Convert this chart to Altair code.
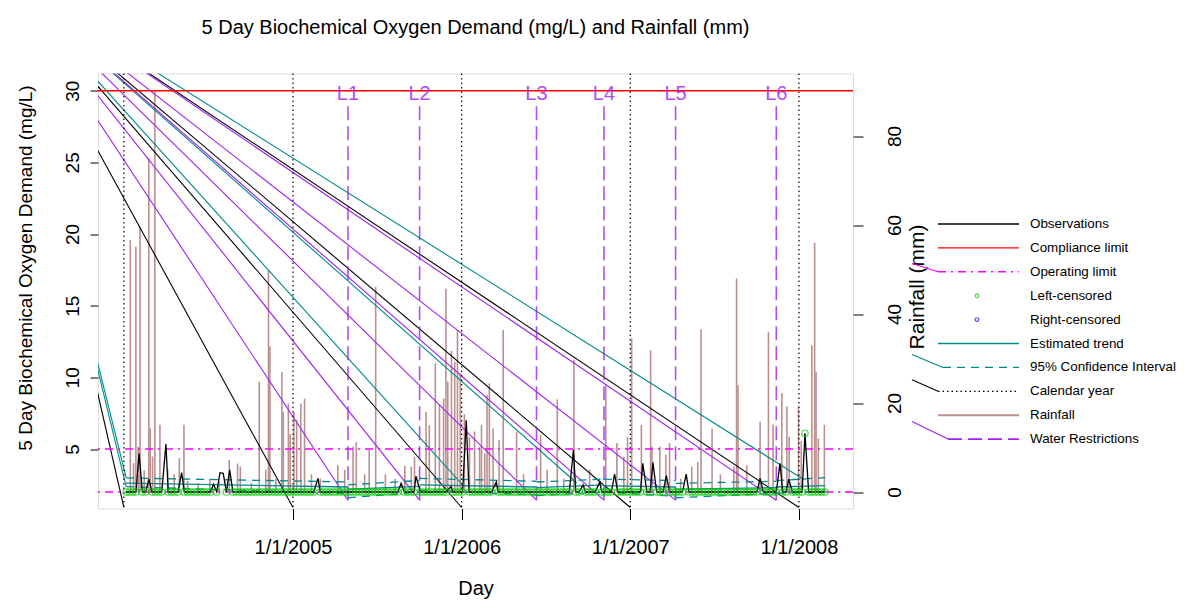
import altair as alt
import pandas as pd

# ---------------- values ----------------
rain_dates = [
    "2004-01-15", "2004-01-22", "2004-01-27", "2004-02-01", "2004-02-05", "2004-02-14",
    "2004-02-24", "2004-02-27", "2004-03-03", "2004-03-08", "2004-03-19", "2004-04-05",
    "2004-04-19", "2004-04-30", "2004-05-10", "2004-05-18", "2004-06-10", "2004-07-05",
    "2004-07-25", "2004-08-16", "2004-09-03", "2004-09-09", "2004-10-03", "2004-10-20",
    "2004-11-03", "2004-11-09", "2004-11-12", "2004-11-25", "2004-12-08", "2004-12-11",
    "2004-12-22", "2004-12-26", "2005-01-03", "2005-01-09", "2005-01-18", "2005-01-26",
    "2005-02-10", "2005-03-01", "2005-04-08", "2005-04-23", "2005-05-11", "2005-05-18",
    "2005-06-05", "2005-06-15", "2005-06-29", "2005-07-20", "2005-08-10", "2005-08-31",
    "2005-09-14", "2005-09-21", "2005-10-16", "2005-10-23", "2005-11-05", "2005-11-14",
    "2005-11-23", "2005-11-28", "2005-12-02", "2005-12-10", "2005-12-17", "2005-12-23",
    "2005-12-29", "2006-01-07", "2006-01-18", "2006-01-29", "2006-02-09", "2006-02-13",
    "2006-02-20", "2006-02-25", "2006-03-02", "2006-03-10", "2006-03-23", "2006-04-01",
    "2006-04-30", "2006-05-15", "2006-06-21", "2006-07-05", "2006-07-27", "2006-08-10",
    "2006-09-01", "2006-10-05", "2006-11-09", "2006-12-03", "2006-12-18", "2006-12-26",
    "2007-01-04", "2007-01-25", "2007-02-14", "2007-02-17", "2007-03-06", "2007-03-19",
    "2007-03-27", "2007-04-20", "2007-05-14", "2007-05-27", "2007-06-03", "2007-06-27",
    "2007-07-15", "2007-08-13", "2007-08-19", "2007-08-22", "2007-09-10", "2007-10-09",
    "2007-10-27", "2007-11-06", "2007-11-25", "2007-12-06", "2007-12-11", "2007-12-31",
    "2008-01-06", "2008-01-29", "2008-02-04", "2008-02-07", "2008-02-12", "2008-02-25",
]
rain_mm = [
    56.6, 6.5, 55.1, 10.2, 59.6, 4.9,
    75.0, 14.3, 8.0, 90.3, 15.1, 5.0,
    4.0, 7.6, 15.1, 2.5, 2.0, 3.0,
    2.5, 7.2, 6.4, 5.7, 2.0, 24.8,
    5.0, 49.9, 32.7, 3.0, 27.0, 18.0,
    19.9, 13.0, 18.0, 16.2, 19.9, 21.0,
    4.0, 3.0, 6.0, 5.0, 10.2, 11.2,
    4.0, 9.5, 46.1, 4.0, 3.0, 5.9,
    5.7, 7.9, 18.0, 15.0, 28.9, 19.7,
    21.0, 45.7, 24.8, 31.7, 29.3, 36.4,
    26.7, 17.5, 12.4, 13.6, 10.2, 15.1,
    8.7, 21.8, 24.4, 14.3, 11.7, 36.4,
    13.6, 4.0, 12.8, 5.0, 20.8, 3.0,
    29.7, 5.0, 24.0, 11.0, 7.9, 12.4,
    34.5, 15.1, 31.9, 10.2, 10.2, 8.4,
    11.0, 3.0, 5.7, 6.8, 36.6, 14.3,
    4.0, 5.7, 48.0, 24.0, 6.0, 15.8,
    36.0, 15.1, 22.2, 19.2, 12.4, 19.2,
    11.5, 33.0, 56.0, 27.0, 12.0, 15.1,
]

# observations: weekly sampling; values above the detection limit
obs_first, obs_last = "2004-01-06", "2008-02-26"
detection_limit = 2.0
peak_dates = [
    "2004-02-03", "2004-02-24", "2004-04-01", "2004-05-05", "2004-07-13", "2004-07-27",
    "2004-08-03", "2004-08-17", "2005-02-24", "2005-08-23", "2005-09-24", "2005-12-09",
    "2006-01-11", "2006-03-17", "2006-08-31", "2006-09-21", "2006-10-27", "2006-11-28",
    "2007-01-28", "2007-02-19", "2007-03-20", "2007-05-02", "2007-10-09", "2007-11-21",
    "2007-12-10", "2008-01-14",
]
peak_values = [
    4.7, 2.9, 5.35, 3.35, 2.55, 3.35,
    3.3, 3.55, 2.95, 2.6, 3.1, 2.4,
    7.0, 2.7, 4.95, 2.5, 2.7, 3.25,
    4.0, 4.05, 3.15, 3.25, 2.95, 4.0,
    2.9, 6.1,
]
censored_peak_dates = ["2008-01-14"]

compliance_limit = 30.0
operating_limits = [5.0, 2.0]
year_starts = ["2004-01-01", "2005-01-01", "2006-01-01", "2007-01-01", "2008-01-01"]
tick_years = [2005, 2006, 2007, 2008]

restriction_labels = ["L1", "L2", "L3", "L4", "L5", "L6"]
restriction_dates = ["2005-04-30", "2005-10-02", "2006-06-12", "2006-11-05", "2007-04-09", "2007-11-13"]
restriction_low, restriction_high, restriction_label_y = 1.43, 29.1, 29.77

trend_breaks = ["2004-01-06", "2005-04-30", "2005-10-02", "2006-06-12", "2006-11-05",
                "2007-04-09", "2007-11-13", "2008-02-27"]
trend_from = [2.62, 2.2, 2.5, 2.3, 2.45, 2.2, 2.35]
trend_to = [2.35, 2.4, 2.35, 2.5, 2.35, 2.3, 2.45]
upper_from = [2.98, 2.5, 2.95, 2.7, 2.9, 2.6, 2.8]
upper_to = [2.7, 2.8, 2.75, 2.9, 2.8, 2.75, 3.0]
lower_from = [2.37, 1.6, 2.1, 1.75, 2.0, 1.6, 1.9]
lower_to = [1.9, 2.0, 1.8, 2.0, 1.7, 1.9, 2.05]

# stray connector lines in the original, all running from one far point
stray_origin_date, stray_origin_value = "2003-04-12", 38.07
stray_black_ends = [(d, 0.92) for d in year_starts]
stray_purple_ends = [(d, restriction_low) for d in restriction_dates]
stray_teal_ends = [("2004-01-06", 2.98), ("2004-01-06", 2.37), ("2005-12-30", 2.63),
                   ("2006-09-07", 2.63), ("2008-01-13", 2.84)]

legend_labels = ["Observations", "Compliance limit", "Operating limit", "Left-censored",
                 "Right-censored", "Estimated trend", "95% Confidence Interval",
                 "Calendar year", "Rainfall", "Water Restrictions"]

# ---------------- layout / style ----------------
W, H = 755, 435
X_DOM = ("2003-11-06", "2008-04-27")
Y_DOM = (0.85, 31.2)
R_DOM = (-3.7, 94.05)
FONT = "Liberation Sans"
TEAL, PURPLE, MAGENTA, RED, GREEN, ROSY = "#008b8b", "#a020f0", "#ff00ff", "#ff0000", "#00cc00", "#bc8f8f"


def dt(s):
    t = pd.Timestamp(s)
    return alt.DateTime(year=t.year, month=t.month, date=t.day, utc=True)


xscale = alt.Scale(type="utc", domain=[dt(X_DOM[0]), dt(X_DOM[1])])
xaxis = alt.Axis(values=[dt(f"{y}-01-01") for y in tick_years],
                 labelExpr="utcFormat(datum.value, '%-m/%-d/%Y')",
                 grid=False, domain=False, tickSize=11, tickColor="black",
                 labelPadding=18, labelFontSize=20, labelColor="black", labelFont=FONT,
                 title="Day", titleFontSize=20, titleFont=FONT, titleFontWeight="normal",
                 titleColor="black", titleY=80, titleBaseline="middle", labelFlush=False)
yscale = alt.Scale(domain=list(Y_DOM), nice=False, zero=False)
yaxis = alt.Axis(values=[5, 10, 15, 20, 25, 30], grid=False, domain=False, tickSize=8,
                 tickColor="black", labelAngle=270, labelAlign="center", labelBaseline="bottom",
                 labelPadding=8, labelFontSize=19, labelColor="black", labelFont=FONT,
                 title="5 Day Biochemical Oxygen Demand (mg/L)", titleFontSize=19,
                 titleFont=FONT, titleFontWeight="normal", titleColor="black", titleAngle=270,
                 titleX=-73, titleY=194, titleAlign="center", titleBaseline="middle")
rscale = alt.Scale(domain=list(R_DOM), nice=False, zero=False)
raxis = alt.Axis(orient="right", values=[0, 20, 40, 60, 80], grid=False, domain=False,
                 tickSize=10, tickColor="black", labelAngle=270, labelAlign="center",
                 labelBaseline="top", labelPadding=22, labelFontSize=19, labelColor="black",
                 labelFont=FONT, title="Rainfall (mm)", titleFontSize=21, titleFont=FONT,
                 titleFontWeight="normal", titleColor="black", titleAngle=270,
                 titleX=64, titleY=213, titleAlign="center", titleBaseline="middle")


def X(f, axis=True):
    return alt.X(f, type="temporal", scale=xscale, axis=xaxis if axis else None)


def Y(f):
    return alt.Y(f, type="quantitative", scale=yscale, axis=yaxis)


# ---------------- tables ----------------
rain = pd.DataFrame({"d": rain_dates, "mm": rain_mm, "zero": 0.0})

grid = pd.date_range(obs_first, obs_last, freq="7D")
pk = pd.to_datetime(pd.Series(peak_dates))
base = [g for g in grid if (abs(pk - g) > pd.Timedelta(days=3)).all()]
obs = pd.DataFrame({"d": list(base) + list(pk), "v": [detection_limit] * len(base) + peak_values})
obs = obs.sort_values("d").reset_index(drop=True)
obs["cens"] = (obs["v"] == detection_limit) | obs["d"].isin(pd.to_datetime(censored_peak_dates))
obs["d"] = obs["d"].dt.strftime("%Y-%m-%d")
cens = obs[obs["cens"]]

seg = pd.DataFrame({"d0": trend_breaks[:-1], "d1": trend_breaks[1:],
                    "t0": trend_from, "t1": trend_to, "u0": upper_from, "u1": upper_to,
                    "l0": lower_from, "l1": lower_to})
years = pd.DataFrame({"d": year_starts})
limits = pd.DataFrame({"v": operating_limits})
comp = pd.DataFrame({"v": [compliance_limit]})
restr = pd.DataFrame({"d": restriction_dates, "lab": restriction_labels,
                      "lo": restriction_low, "hi": restriction_high, "ly": restriction_label_y})


def stray(ends):
    return pd.DataFrame({"x0": stray_origin_date, "y0": stray_origin_value,
                         "x1": [e[0] for e in ends], "y1": [e[1] for e in ends]})


# ---------------- rainfall (right axis) ----------------
rain_layer = alt.Chart(rain).mark_rule(color=ROSY, strokeWidth=1.6).encode(
    x=X("d:T", axis=False),
    y=alt.Y("mm:Q", scale=rscale, axis=raxis),
    y2=alt.Y2("zero:Q"),
)

# ---------------- BOD layers ----------------
layers = []
for ends, col in [(stray_black_ends, "black"), (stray_teal_ends, TEAL), (stray_purple_ends, PURPLE)]:
    layers.append(alt.Chart(stray(ends)).mark_rule(color=col, strokeWidth=1.1, clip=True).encode(
        x=X("x0:T"), y=Y("y0:Q"), x2=alt.X2("x1:T"), y2=alt.Y2("y1:Q")))

layers.append(alt.Chart(years).mark_rule(color="black", strokeWidth=1.2, strokeDash=[1.5, 3]).encode(
    x=X("d:T")))
layers.append(alt.Chart(comp).mark_rule(color=RED, strokeWidth=1.4).encode(y=Y("v:Q")))
layers.append(alt.Chart(limits).mark_rule(color=MAGENTA, strokeWidth=1.4,
                                          strokeDash=[8, 5, 2, 5]).encode(y=Y("v:Q")))
layers.append(alt.Chart(restr).mark_rule(color=PURPLE, strokeWidth=1.6, strokeDash=[14, 6],
                                         opacity=0.8).encode(
    x=X("d:T"), y=Y("lo:Q"), y2=alt.Y2("hi:Q")))
layers.append(alt.Chart(restr).mark_text(color=PURPLE, fontSize=20, font=FONT, opacity=0.8,
                                         align="center", baseline="middle").encode(
    x=X("d:T"), y=Y("ly:Q"), text="lab:N"))
layers.append(alt.Chart(seg).mark_rule(color=TEAL, strokeWidth=1.3).encode(
    x=X("d0:T"), x2=alt.X2("d1:T"), y=Y("t0:Q"), y2=alt.Y2("t1:Q")))
for a, b in [("u0", "u1"), ("l0", "l1")]:
    layers.append(alt.Chart(seg).mark_rule(color=TEAL, strokeWidth=1.3, strokeDash=[8, 6]).encode(
        x=X("d0:T"), x2=alt.X2("d1:T"), y=Y(f"{a}:Q"), y2=alt.Y2(f"{b}:Q")))
layers.append(alt.Chart(obs).mark_line(color="black", strokeWidth=1.3).encode(
    x=X("d:T"), y=Y("v:Q")))
layers.append(alt.Chart(cens).mark_point(shape="circle", filled=False, color=GREEN, size=42,
                                         strokeWidth=1.2).encode(x=X("d:T"), y=Y("v:Q")))
bod = alt.layer(*layers)

# ---------------- legend (drawn in pixel space, to the right of the plot) ----------------
row0, step = 150.5, 23.9
lx0, lx1, ltext, lsym, stub_x = 840, 921, 932, 879, 814
span_x = (pd.Timestamp(X_DOM[1]) - pd.Timestamp(X_DOM[0])).days
ox = (pd.Timestamp(stray_origin_date) - pd.Timestamp(X_DOM[0])).days / span_x * W
oy = (Y_DOM[1] - stray_origin_value) / (Y_DOM[1] - Y_DOM[0]) * H

styles = [
    ("line", "black", None, lx0, 1.3, False),
    ("line", RED, None, lx0, 1.4, False),
    ("line", MAGENTA, [8, 5, 2, 5], lx0, 1.4, True),
    ("point", GREEN, None, lx0, 1.2, False),
    ("point", "#0000ff", None, lx0, 1.2, False),
    ("line", TEAL, None, lx0, 1.3, False),
    ("line", TEAL, [8, 6], lx0 + 5, 1.3, True),
    ("line", "black", [1.5, 3], lx0, 1.2, True),
    ("line", ROSY, None, lx0, 2, False),
    ("line", PURPLE, [14, 6], lx0 + 10, 1.6, True),
]
leg_layers = []
lab_df = pd.DataFrame({"lab": legend_labels, "x": ltext,
                       "y": [row0 + i * step for i in range(len(legend_labels))]})
leg_layers.append(alt.Chart(lab_df).mark_text(align="left", baseline="middle", fontSize=13.4,
                                              font=FONT, color="black").encode(
    x=alt.X("x:Q", scale=None), y=alt.Y("y:Q", scale=None), text="lab:N"))
for i, (kind, col, dash, start, sw, stub) in enumerate(styles):
    yy = row0 + i * step
    if kind == "line":
        df = pd.DataFrame({"x": [start], "x2": [lx1], "y": [yy]})
        kw = {"strokeDash": dash} if dash else {}
        leg_layers.append(alt.Chart(df).mark_rule(color=col, strokeWidth=sw, **kw).encode(
            x=alt.X("x:Q", scale=None), x2="x2:Q", y=alt.Y("y:Q", scale=None)))
    else:
        df = pd.DataFrame({"x": [lsym], "y": [yy]})
        leg_layers.append(alt.Chart(df).mark_point(shape="circle", filled=False, color=col,
                                                   size=14, strokeWidth=1.2).encode(
            x=alt.X("x:Q", scale=None), y=alt.Y("y:Q", scale=None)))
    if stub:
        slope = (yy - oy) / (start - ox)
        df = pd.DataFrame({"x": [stub_x], "x2": [start], "y": [yy - slope * (start - stub_x)], "y2": [yy]})
        leg_layers.append(alt.Chart(df).mark_rule(color=col, strokeWidth=1.1).encode(
            x=alt.X("x:Q", scale=None), x2="x2:Q", y=alt.Y("y:Q", scale=None), y2="y2:Q"))
legend = alt.layer(*leg_layers)

chart = alt.layer(rain_layer, bod, legend).resolve_scale(
    x="independent", y="independent"
).properties(
    width=W, height=H,
    autosize=alt.AutoSizeParams(type="none"),
    padding={"left": 90, "top": 65.5, "right": 326, "bottom": 91},
    title=alt.TitleParams("5 Day Biochemical Oxygen Demand (mg/L) and Rainfall (mm)",
                          fontSize=20, font=FONT, fontWeight="normal", color="black",
                          anchor="middle", frame="group", baseline="alphabetic", offset=19),
).configure_view(stroke="black", strokeWidth=1.3).configure(background="white")

chart.save("out.html", embed_options={"renderer": "svg", "actions": False})
